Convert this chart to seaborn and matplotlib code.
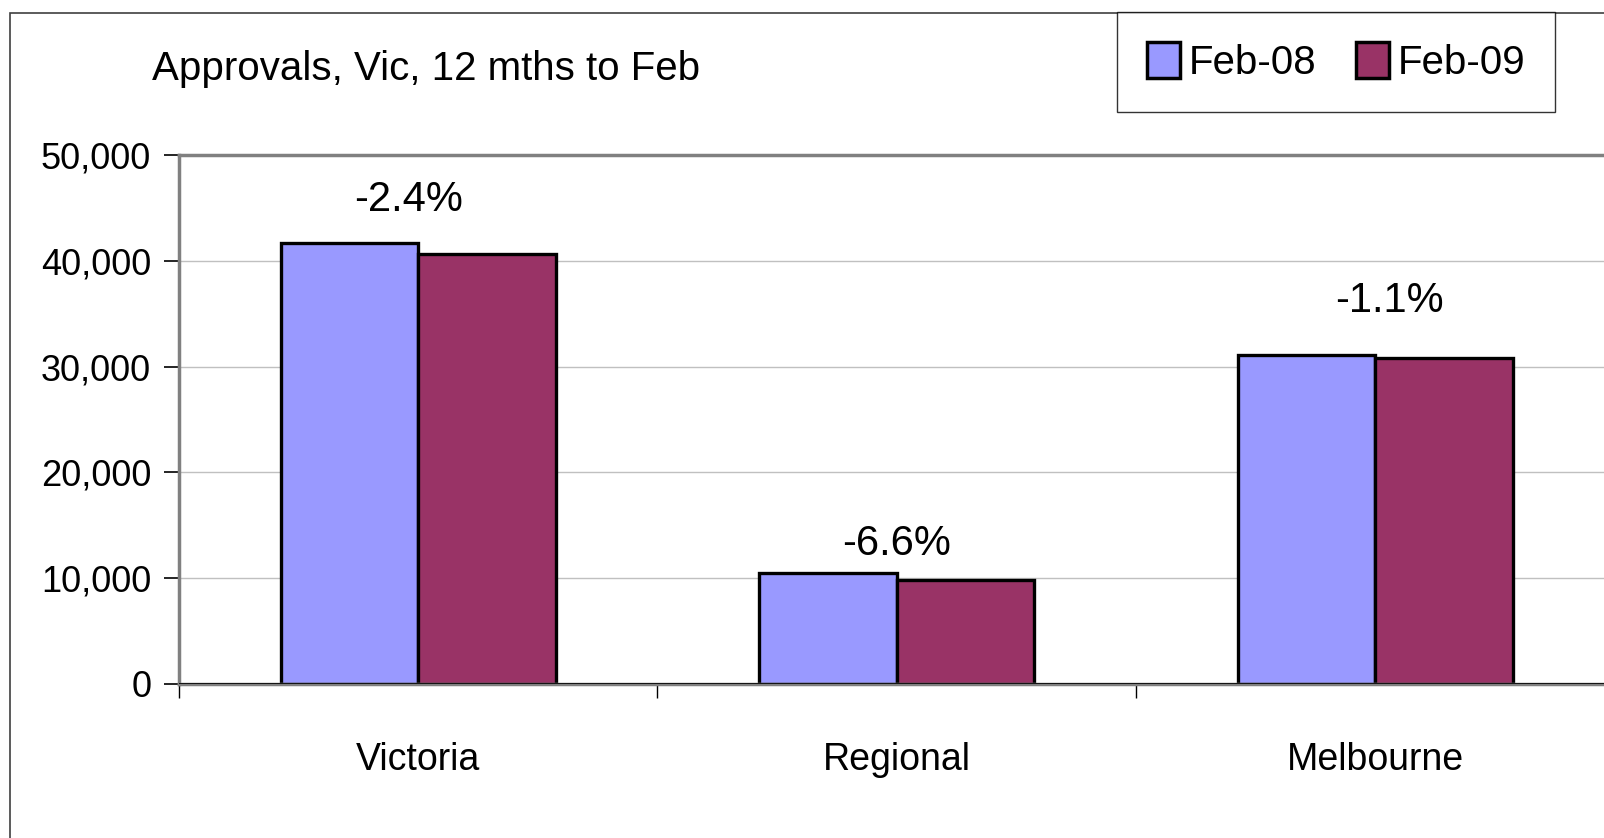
import pandas as pd
import matplotlib
matplotlib.use("Agg")
import matplotlib.pyplot as plt
import seaborn as sns
from matplotlib.patches import Rectangle, Patch

# Values
regions = ['Victoria', 'Regional', 'Melbourne']
periods = ['Feb-08', 'Feb-09']
feb08 = [41700, 10450, 31150]
feb09 = [40700, 9760, 30810]
pct_labels = ['-2.4%', '-6.6%', '-1.1%']
pct_label_y = [44700, 12200, 35200]
pct_label_dx = [-0.02, 0.0, 0.03]
y_ticks = [0, 10000, 20000, 30000, 40000, 50000]
colors = ['#9999FF', '#993366']

df = pd.DataFrame({
    'region': regions * 2,
    'period': [periods[0]] * len(regions) + [periods[1]] * len(regions),
    'approvals': feb08 + feb09,
})

sns.set_style('white')
plt.rcParams['font.family'] = ['Liberation Sans', 'DejaVu Sans']
plt.rcParams['text.color'] = 'black'

W, H = 1604, 838
fig = plt.figure(figsize=(W / 100, H / 100), dpi=100)
ax = fig.add_axes([179 / W, 1 - 683.5 / H, 1435.5 / W, 528 / H])

sns.barplot(data=df, x='region', y='approvals', hue='period', palette=colors,
            width=0.574, edgecolor='black', linewidth=2.4, saturation=1,
            errorbar=None, legend=False, ax=ax)

ax.set_xlim(-0.5, 2.5)
ax.set_ylim(0, 50000)
ax.set_xlabel('')
ax.set_ylabel('')

# y axis
ax.set_yticks(y_ticks)
ax.set_yticklabels([f'{v:,}' for v in y_ticks])
ax.yaxis.grid(True, color='#c0c0c0', lw=1)
ax.set_axisbelow(True)
ax.tick_params(axis='y', left=True, length=11, width=1.2, color='black',
               pad=9, labelsize=26, labelcolor='black')

# x axis: labels at centres, tick marks at category boundaries
ax.set_xticks(range(len(regions)))
ax.set_xticklabels(regions)
ax.tick_params(axis='x', which='major', length=0, pad=42, labelsize=27,
               labelcolor='black')
ax.set_xticks([-0.5, 0.5, 1.5, 2.5], minor=True)
ax.tick_params(axis='x', which='minor', bottom=True, length=10, width=1,
               color='black')

for s in ['left', 'top', 'bottom', 'right']:
    ax.spines[s].set_color('#808080')
    ax.spines[s].set_linewidth(2.5)
ax.axhline(0, color='black', lw=1.2, zorder=5)

# change labels above each group
for i, (lab, yv, dx) in enumerate(zip(pct_labels, pct_label_y, pct_label_dx)):
    ax.text(i + dx, yv, lab, ha='center', va='baseline', fontsize=30,
            color='black')

# title
fig.text(152 / W, 1 - 80 / H, 'Approvals, Vic, 12 mths to Feb', fontsize=29,
         ha='left', va='baseline', color='black')

# legend
handles = [Patch(facecolor=c, edgecolor='black', linewidth=2.5) for c in colors]
leg = fig.legend(handles, periods, loc='upper left',
                 bbox_to_anchor=(1117 / W, 1 - 12 / H), ncol=2, frameon=True,
                 fancybox=False, edgecolor='black', fontsize=29,
                 labelcolor='black', handlelength=0.82, handleheight=1.0,
                 handletextpad=0.2, columnspacing=1.0, borderpad=0.75,
                 borderaxespad=0)
leg.get_frame().set_linewidth(1)

# outer chart border (only left and top edges visible)
fig.patches.append(Rectangle((10 / W, -0.1), 1.0, 1.1 - 13 / H,
                             transform=fig.transFigure, fill=False,
                             edgecolor='#404040', lw=1.2, clip_on=False))

fig.savefig('out.png', dpi=100)
